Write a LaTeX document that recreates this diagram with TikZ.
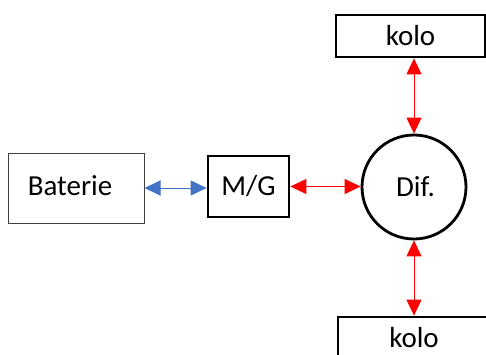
\documentclass[tikz,border=0pt]{standalone}
\usepackage{fontspec}
\setmainfont{Carlito}
\usetikzlibrary{arrows.meta}
\definecolor{linkblue}{HTML}{4472C4}
\definecolor{linkred}{HTML}{FF0000}
\begin{document}
\begin{tikzpicture}[x=1pt,y=-1pt,
  label font/.style={font=\fontsize{29}{33}\selectfont},
  thinbox/.style={draw=black!75, line width=1pt, rectangle, inner sep=0pt, label font},
  thickbox/.style={draw=black, line width=2.8pt, rectangle, inner sep=0pt, label font},
  roundbox/.style={draw=black, line width=2.8pt, circle, inner sep=0pt, minimum size=104pt, label font},
  bluelink/.style={draw=linkblue, line width=1pt, {Triangle[length=16pt,width=15pt]}-{Triangle[length=16pt,width=15pt]}},
  redlink/.style={draw=linkred, line width=1pt, {Triangle[length=16pt,width=15pt]}-{Triangle[length=16pt,width=15pt]}}]
  \useasboundingbox (0,0) rectangle (486,354);
  \clip (0,0) rectangle (486,354);
  % components
  \node[thinbox, minimum width=136pt, minimum height=70pt] (bat) at (76,188) {};
  \node[label font] at (70,186) {Baterie};
  \node[thickbox, minimum width=81pt, minimum height=61pt] (mg) at (248.5,186.5) {M/G};
  \node[roundbox] (dif) at (414,187) {\hspace*{3pt}Dif.};
  \node[thickbox, minimum width=149pt, minimum height=42pt] (kup) at (410.5,36) {kolo};
  \node[thickbox, minimum width=152pt, minimum height=42pt] (kdn) at (414,338) {kolo};
  % connections
  \draw[bluelink] (bat.east) -- (mg.west |- bat.east);
  \draw[redlink] (mg.east) -- (dif.west |- mg.east);
  \draw[redlink] (dif.north) -- (dif.north |- kup.south);
  \draw[redlink] (dif.south) -- (dif.south |- kdn.north);
\end{tikzpicture}
\end{document}
